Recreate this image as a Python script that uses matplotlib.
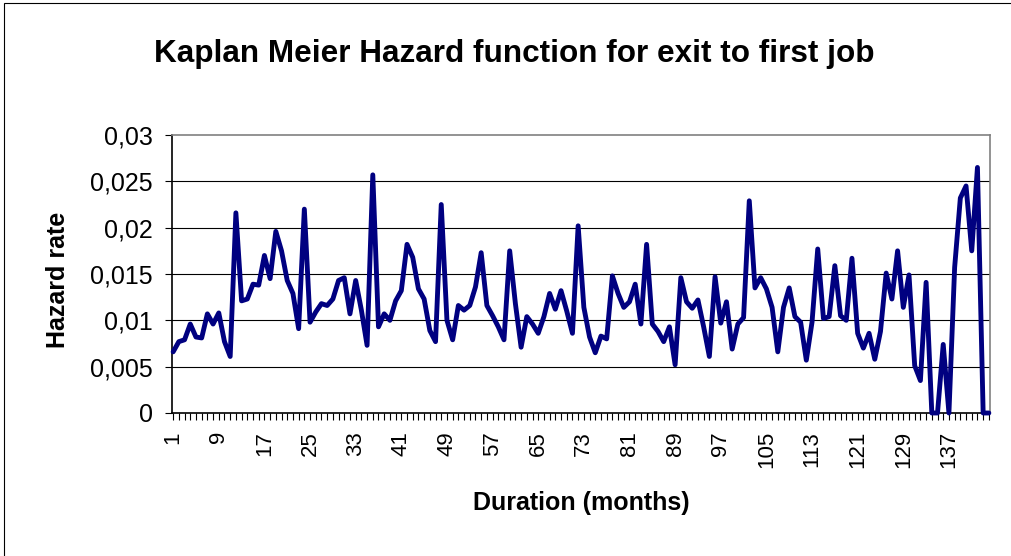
import matplotlib
matplotlib.use('Agg')
import matplotlib.pyplot as plt
from matplotlib.patches import Rectangle

# Hazard rate per month (months 1..144)
hazard = [
    0.0066, 0.0077, 0.0079, 0.0096, 0.0082, 0.0081, 0.0107, 0.0096, 0.0108, 0.0077,
    0.0061, 0.0216, 0.0121, 0.0123, 0.0139, 0.0138, 0.0170, 0.0145, 0.0196, 0.0175,
    0.0143, 0.0129, 0.0091, 0.0220, 0.0098, 0.0109, 0.0118, 0.0116, 0.0123, 0.0143,
    0.0146, 0.0107, 0.0143, 0.0111, 0.0073, 0.0257, 0.0093, 0.0107, 0.0100, 0.0121,
    0.0132, 0.0182, 0.0168, 0.0134, 0.0123, 0.0089, 0.0077, 0.0225, 0.0100, 0.0079,
    0.0116, 0.0111, 0.0116, 0.0136, 0.0173, 0.0116, 0.0105, 0.0093, 0.0079, 0.0175,
    0.0118, 0.0071, 0.0104, 0.0096, 0.0086, 0.0104, 0.0129, 0.0112, 0.0132, 0.0110,
    0.0086, 0.0202, 0.0114, 0.0082, 0.0065, 0.0083, 0.0080, 0.0148, 0.0129, 0.0114,
    0.0120, 0.0139, 0.0096, 0.0182, 0.0096, 0.0088, 0.0077, 0.0093, 0.0052, 0.0146,
    0.0120, 0.0113, 0.0122, 0.0093, 0.0061, 0.0147, 0.0097, 0.0120, 0.0069, 0.0096,
    0.0103, 0.0229, 0.0135, 0.0146, 0.0134, 0.0114, 0.0066, 0.0114, 0.0135, 0.0104,
    0.0098, 0.0057, 0.0098, 0.0177, 0.0102, 0.0104, 0.0159, 0.0105, 0.0100, 0.0167,
    0.0086, 0.0070, 0.0086, 0.0058, 0.0088, 0.0151, 0.0123, 0.0175, 0.0114, 0.0149,
    0.0051, 0.0035, 0.0141, 0.0000, 0.0000, 0.0074, 0.0000, 0.0157, 0.0232, 0.0245,
    0.0175, 0.0265, 0.0000, 0.0000,
]
months = list(range(1, len(hazard) + 1))
xtick_labels = [str(m) if (m - 1) % 8 == 0 else '' for m in months]
ytick_values = [0, 0.005, 0.01, 0.015, 0.02, 0.025, 0.03]
ytick_labels = ['0', '0,005', '0,01', '0,015', '0,02', '0,025', '0,03']

plt.rcParams['font.family'] = ['Liberation Sans', 'DejaVu Sans']

W, H = 1011, 556
fig = plt.figure(figsize=(W / 100, H / 100), dpi=100)
ax = fig.add_axes([172 / W, 1 - 413 / H, 818 / W, 278 / H])

# outer chart frame (only left/top edges fall inside the picture)
fig.patches.append(Rectangle((4 / W, -0.1), 1.2, 1.1 - 3 / H, transform=fig.transFigure,
                             fill=False, edgecolor='black', linewidth=0.8))

for y in ytick_values[1:-1]:
    ax.axhline(y, color='black', linewidth=0.8, zorder=1)

ax.plot(months, hazard, color='#000080', linewidth=3.5, solid_joinstyle='round',
        solid_capstyle='round', zorder=3, clip_on=False)

ax.set_xlim(0.8, len(hazard) + 0.2)
ax.set_ylim(0, 0.03)
ax.set_xticks(months)
ax.set_xticklabels(xtick_labels, rotation=90, fontsize=16)
ax.set_yticks(ytick_values)
ax.set_yticklabels(ytick_labels, fontsize=18)
ax.tick_params(axis='both', direction='out', length=5, width=0.8, color='black')
ax.tick_params(axis='x', pad=8)
ax.tick_params(axis='y', pad=9)

ax.spines['left'].set_color('black')
ax.spines['bottom'].set_color('black')
ax.spines['top'].set_color('#808080')
ax.spines['right'].set_color('#808080')
for s in ax.spines.values():
    s.set_linewidth(1.2)

fig.text(514 / W, 1 - 54 / H, 'Kaplan Meier Hazard function for exit to first job',
         fontsize=22.7, fontweight='bold', ha='center', va='center')
fig.text(58 / W, 1 - 280 / H, 'Hazard rate', fontsize=18, fontweight='bold',
         rotation=90, ha='center', va='center')
fig.text(581 / W, 1 - 503 / H, 'Duration (months)', fontsize=18, fontweight='bold',
         ha='center', va='center')

fig.savefig('out.png', dpi=100)
